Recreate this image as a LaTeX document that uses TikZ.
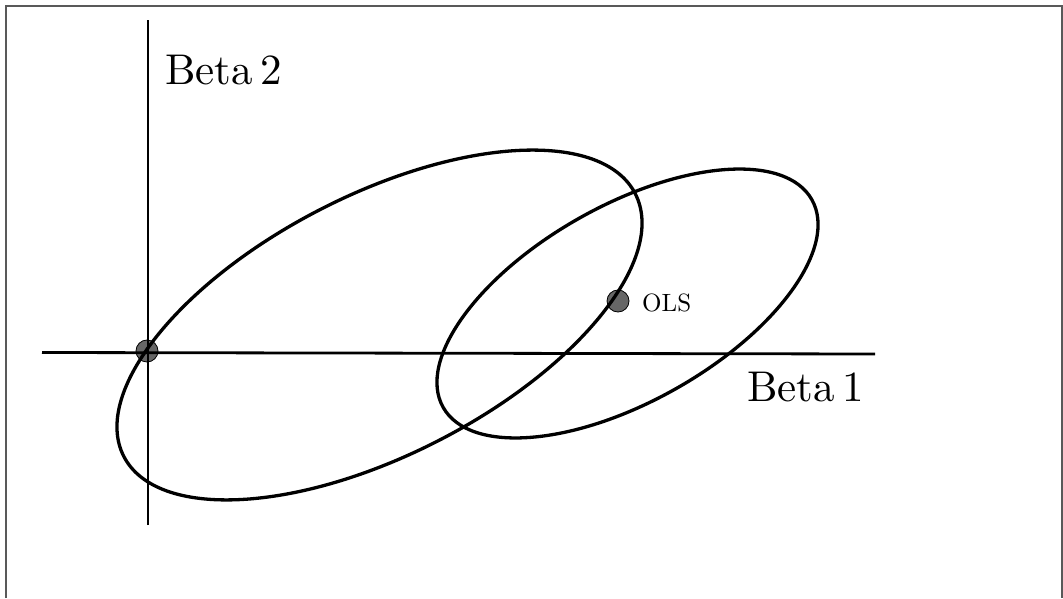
\documentclass[tikz,border=0pt]{standalone}
\usepackage{fontspec}
\newfontfamily\lmten{lmroman10-regular.otf}
\begin{document}
\begin{tikzpicture}[x=1pt,y=1pt,
  axis/.style={line width=2.8pt,black},
  ell/.style={line width=3.3pt,black},
  dot/.style={circle,fill=black!60,draw=black,line width=0.8pt,minimum size=22pt,inner sep=0pt},
  biglabel/.style={anchor=base west,inner sep=0pt,font=\lmten\fontsize{43}{50}\selectfont},
  smalllabel/.style={anchor=base west,inner sep=0pt,font=\lmten\fontsize{25}{30}\selectfont}]
\useasboundingbox (0,0) rectangle (1063,598);
% frame
\draw[line width=1.5pt,black!65] (6,0) -- (6,592) -- (1062,592) -- (1062,0);
% dots
\node[dot] (origin) at (147,247) {};
\node[dot] (ols) at (618,297) {};
% axes
\coordinate (xl) at (42,245.5);
\coordinate (xr) at (875,244);
\coordinate (yt) at (148,578);
\coordinate (yb) at (148,73);
\draw[axis] (xl) -- (xr);
\draw[axis] (yb) -- (yt);
% ellipses
\draw[ell,rotate around={27.2:(379.5,273)}] (379.5,273) ellipse [x radius=287.5, y radius=129.8];
\draw[ell,rotate around={29.4:(627.5,294.5)}] (627.5,294.5) ellipse [x radius=211.6, y radius=98];
% labels
\node[biglabel] (b2) at (165,513) {Beta\,2};
\node[biglabel] (b1) at (747,197) {Beta\,1};
\node[smalllabel] (olslabel) at (642,287) {OLS};
\end{tikzpicture}
\end{document}
